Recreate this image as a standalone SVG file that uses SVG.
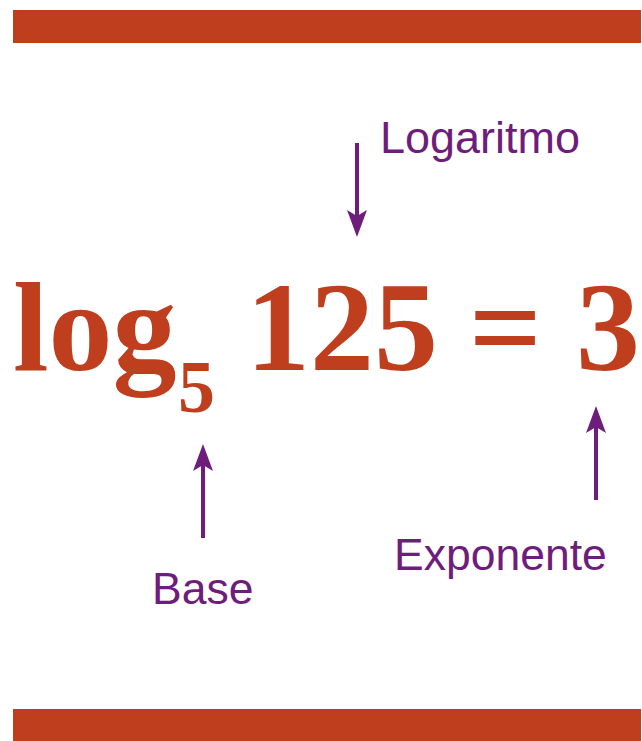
<svg xmlns="http://www.w3.org/2000/svg" width="642" height="741" viewBox="0 0 642 741">
<style>
.bar{fill:#BF3E1E}
.math{font-family:"Liberation Serif","Times New Roman",serif;font-weight:bold;fill:#BF3E1E}
.lbl{font-family:"Liberation Sans",Arial,sans-serif;font-size:44.5px;fill:#6E1D7C}
.arr{stroke:#6E1D7C;stroke-width:4;fill:none;marker-end:url(#ah)}
</style>
<defs>
<marker id="ah" markerUnits="userSpaceOnUse" viewBox="0 -11 28 22" markerWidth="28" markerHeight="22" refX="17" refY="0" orient="auto">
<path d="M0,-10 L27,0 L0,10 L6,0 Z" fill="#6E1D7C"/>
</marker>
</defs>
<rect class="bar" x="13" y="10" width="628" height="33"/>
<rect class="bar" x="13" y="709" width="628" height="32"/>
<g id="equation">
<text class="math" x="13" y="370" font-size="128">log</text>
<text class="math" x="178" y="412" font-size="74">5</text>
<text class="math" x="246" y="370" font-size="128">125</text>
<text class="math" x="469" y="370" font-size="128">=</text>
<text class="math" x="576" y="370" font-size="128">3</text>
</g>
<g id="logaritmo"><text class="lbl" x="380" y="153" textLength="200" lengthAdjust="spacingAndGlyphs">Logaritmo</text></g>
<g id="base"><text class="lbl" x="152" y="604">Base</text></g>
<g id="exponente"><text class="lbl" x="394" y="570">Exponente</text></g>
<g id="connectors">
<path class="arr" d="M357,143 L357,227"/>
<path class="arr" d="M203,538 L203,454"/>
<path class="arr" d="M596,500 L596,416"/>
</g>
</svg>
